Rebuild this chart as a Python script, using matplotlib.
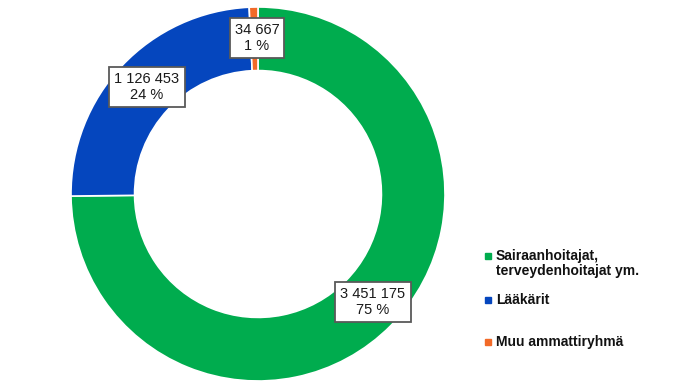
import matplotlib
matplotlib.use('Agg')
import matplotlib.pyplot as plt

categories = ['Sairaanhoitajat,\nterveydenhoitajat ym.', 'Lääkärit', 'Muu ammattiryhmä']
values = [3451175, 1126453, 34667]
value_labels = ['3 451 175', '1 126 453', '34 667']
colors = ['#00AC4E', '#0546BE', '#F26A28']

W, H = 683, 384
fig = plt.figure(figsize=(W / 100, H / 100), dpi=100)
ax = fig.add_axes([0, 0, 1, 1])

# pixel-like coordinates, y measured upwards
cx, cy, r = 258, H - 194, 187
wedges, _ = ax.pie(values, colors=colors, startangle=90, counterclock=False,
                   center=(cx, cy), radius=r,
                   wedgeprops=dict(width=r * 0.34, edgecolor='white', linewidth=1.2))
ax.set_xlim(0, W)
ax.set_ylim(0, H)
ax.set_aspect('equal')
ax.axis('off')

total = sum(values)
label_pos = [(373, 302), (147, 87), (257, 38)]
for v, lab, (px, py) in zip(values, value_labels, label_pos):
    pct = round(100 * v / total)
    ax.text(px, H - py, f'{lab}\n{pct} %', ha='center', va='center',
            fontsize=10.5, family='Liberation Sans', color='#1a1a1a', linespacing=1.15,
            bbox=dict(boxstyle='square,pad=0.35', fc='white', ec='#595959', lw=1.3))

# legend
legend_y = [256, 300, 342]
for cat, col, ly in zip(categories, colors, legend_y):
    ax.plot(488, H - ly, marker='s', markersize=4, color=col, ls='none')
    ax.text(496, H - ly + 7, cat, ha='left', va='top', fontsize=10,
            fontweight='bold', family='Liberation Sans', color='#111111',
            linespacing=1.05)

fig.savefig('out.png', dpi=100)
